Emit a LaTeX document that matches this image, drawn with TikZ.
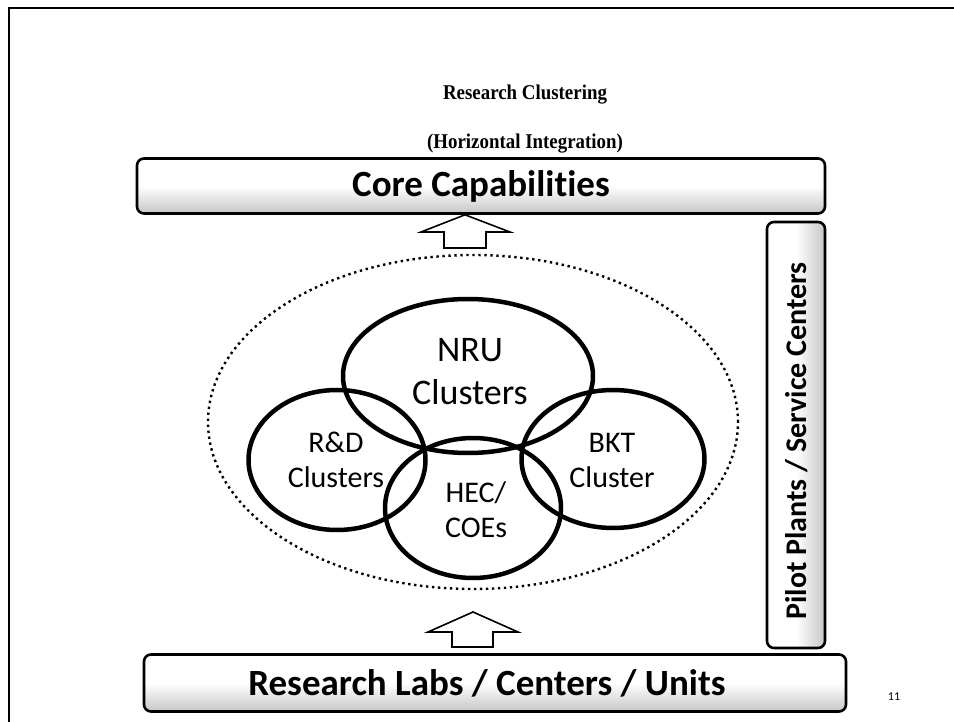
\documentclass[tikz,border=0pt]{standalone}
\usepackage{fontspec}
\setmainfont{Carlito}[Ligatures=NoCommon]
\newfontfamily\titlefont{Liberation Serif}
\usetikzlibrary{shapes.geometric}
\begin{document}
\begin{tikzpicture}[x=1pt,y=-1pt,
  capbox/.style={draw=black,line width=2.6pt,rounded corners=7pt,top color=white,bottom color=gray!45,middle color=white,inner sep=0pt},
  ring/.style={draw=black,line width=4.5pt,ellipse,inner sep=0pt},
  bigarrow/.style={draw=black,line width=1.6pt,fill=white,line join=miter},
  lbl/.style={align=center,font=\fontsize{30}{35}\selectfont},
  ttl/.style={font=\titlefont\bfseries\fontsize{21}{23}\selectfont,xscale=0.9},
  boxtext/.style={font=\bfseries\fontsize{37}{40}\selectfont}
]
\useasboundingbox (0,0) rectangle (954,722);
% frame
\draw[line width=2.5pt] (9,800) -- (9,8) -- (1000,8);
% titles
\node[ttl] (t1) at (525,95) {Research Clustering};
\node[ttl] (t2) at (525,144) {(Horizontal Integration)};
% boxes
\node[capbox,minimum width=688pt,minimum height=55pt] (core) at (481,186) {};
\node[boxtext] (coret) at (481,186) {Core Capabilities};
\node[capbox,minimum width=702pt,minimum height=57pt] (labs) at (495,683) {};
\node[boxtext] (labst) at (487,683) {Research Labs / Centers / Units};
\node[capbox,shading angle=90,minimum width=58pt,minimum height=426pt] (pilot) at (796,435) {};
\node[rotate=90,font=\bfseries\fontsize{30}{32}\selectfont] (pilott) at (797,441) {Pilot Plants / Service Centers};
% dotted ellipse
\node[draw=black,line width=2.4pt,dash pattern=on 2.4pt off 3.6pt,ellipse,minimum width=530pt,minimum height=334pt] (outer) at (473,422) {};
% rings
\node[ring,minimum width=250pt,minimum height=154pt] (nru) at (468,376) {};
\node[ring,minimum width=177pt,minimum height=140pt] (rd) at (337,460) {};
\node[ring,minimum width=183pt,minimum height=138pt] (bkt) at (613,459) {};
\node[ring,minimum width=176pt,minimum height=140pt] (hec) at (473,508) {};
\node[lbl,font=\fontsize{36}{43}\selectfont] (nrut) at (470,372) {NRU\\Clusters};
\node[lbl] (rdt) at (336,460) {R\&D\\Clusters};
\node[lbl] (bktt) at (612,460) {BKT\\Cluster};
\node[lbl] (hect) at (476,510) {HEC/\\COEs};
% arrows
\coordinate (a1) at (465,248);
\draw[bigarrow] (core.south -| a1) -- (510,232) -- (486,232) -- (486,248) -- (444,248) -- (444,232) -- (421,232) -- cycle;
\coordinate (a2) at (473,612);
\draw[bigarrow] (a2) -- (518,632) -- (493,632) -- (493,647) -- (452,647) -- (452,632) -- (428,632) -- cycle;
\node (pg) at (894,697) {\fontsize{12}{13}\selectfont 11};
\end{tikzpicture}
\end{document}
